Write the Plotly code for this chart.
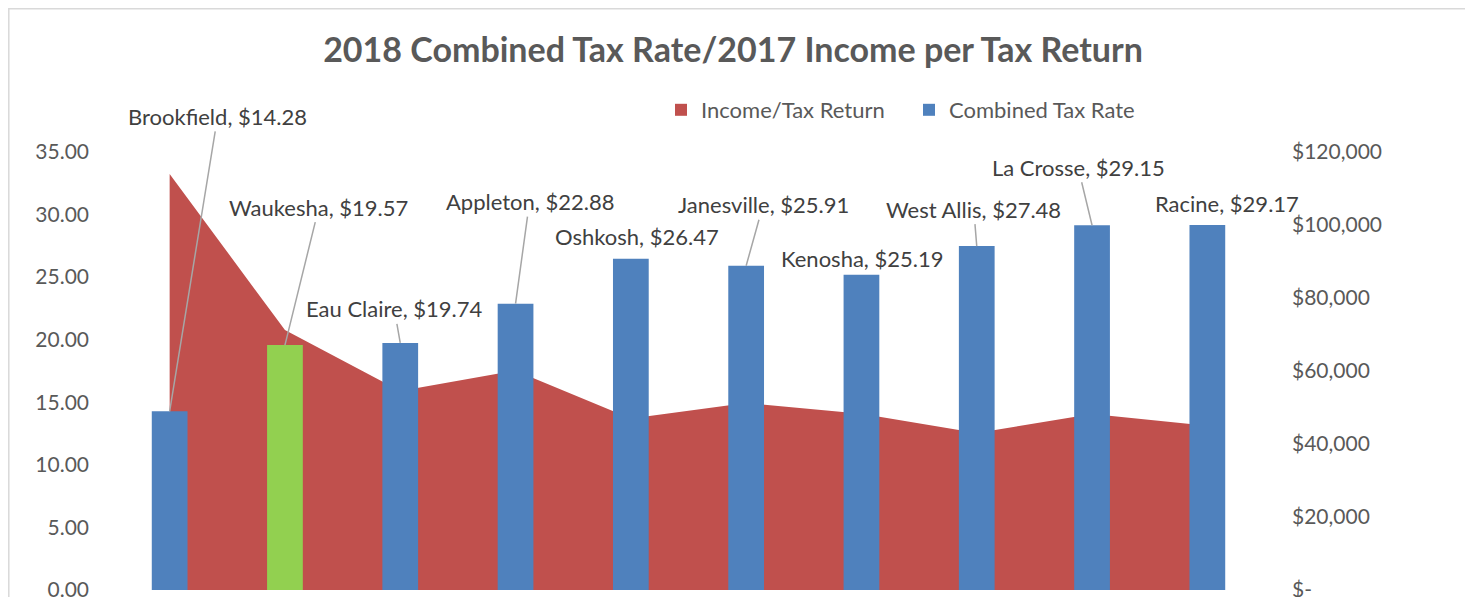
import plotly.graph_objects as go

# ---------------- data ----------------
cities = ["Brookfield", "Waukesha", "Eau Claire", "Appleton", "Oshkosh",
          "Janesville", "Kenosha", "West Allis", "La Crosse", "Racine"]
tax_rate = [14.28, 19.57, 19.74, 22.88, 26.47, 25.91, 25.19, 27.48, 29.15, 29.17]
income = [114000, 71200, 54500, 60100, 47000, 51200, 48300, 43000, 48200, 45000]
highlight_city = "Waukesha"

left_tickvals = [0, 5, 10, 15, 20, 25, 30, 35]
right_tickvals = [0, 20000, 40000, 60000, 80000, 100000, 120000]
right_ticktext = ["$-", "$20,000", "$40,000", "$60,000", "$80,000", "$100,000", "$120,000"]

# ---------------- style ----------------
RED = "#C0504D"
BLUE = "#4F81BD"
GREEN = "#92D050"
GREY_TXT = "#595959"
LABEL_TXT = "#404040"
LEADER = "#A6A6A6"
FONT = "Lato"

# page has an 8px body margin; figure sized so it ends at the window edge
W, H = 1465, 589
ML, MR, MT, MB = 104, 208, 144, 7
PW, PH = W - ML - MR, H - MT - MB

# data-label offsets in pixels (label centre relative to bar top) and leader-line flags
label_dx = [48, 34, -6, 14, 6, 17, 1, -3, -14, 20]
label_dy = [-295, -138, -34, -102, -22, -61, -16, -37, -58, -21]
leader = [True, True, True, True, False, True, False, True, True, False]

bar_colors = [GREEN if c == highlight_city else BLUE for c in cities]

fig = go.Figure()

# income area (primary y, drawn on the right side, sits behind the bars)
fig.add_trace(go.Scatter(
    x=cities, y=income, mode="none", fill="tozeroy", fillcolor=RED,
    name="Income/Tax Return", showlegend=False, yaxis="y", hoverinfo="x+y"))

# tax-rate bars (overlaying axis, left side, drawn above area)
fig.add_trace(go.Bar(
    x=cities, y=tax_rate, marker=dict(color=bar_colors, line=dict(width=0)),
    name="Combined Tax Rate", showlegend=False, yaxis="y2"))

# legend entries
fig.add_trace(go.Scatter(x=[None], y=[None], mode="markers", name="Income/Tax Return",
                         marker=dict(symbol="square", size=12, color=RED), yaxis="y"))
fig.add_trace(go.Scatter(x=[None], y=[None], mode="markers", name="Combined Tax Rate",
                         marker=dict(symbol="square", size=12, color=BLUE), yaxis="y"))

annotations = []
for c, v, dx, dy, ld in zip(cities, tax_rate, label_dx, label_dy, leader):
    annotations.append(dict(
        x=c, y=v, xref="x", yref="y2", text=f"{c}, ${v:.2f}",
        showarrow=True, ax=dx, ay=dy, arrowhead=0, arrowwidth=1.5,
        arrowcolor=LEADER if ld else "rgba(0,0,0,0)", standoff=0,
        font=dict(family=FONT, size=22, color=LABEL_TXT)))

shapes = [dict(type="rect", xref="paper", yref="paper",
               x0=(0.8 - ML) / PW, x1=(1458 - ML) / PW,
               y0=-0.2, y1=(H - MB - 0.8) / PH,
               line=dict(color="#D9D9D9", width=1.5), fillcolor="rgba(0,0,0,0)", layer="below")]

fig.update_layout(
    width=W, height=H,
    margin=dict(l=ML, r=MR, t=MT, b=MB, autoexpand=False),
    paper_bgcolor="white", plot_bgcolor="white",
    font=dict(family=FONT, color=GREY_TXT),
    title=dict(text="<b>2018 Combined Tax Rate/2017 Income per Tax Return</b>",
               x=725 / W, xref="container", xanchor="center",
               y=1 - 42 / H, yref="container", yanchor="middle",
               font=dict(family=FONT, size=34, color=GREY_TXT)),
    bargap=0.69, barmode="overlay",
    xaxis=dict(type="category", range=[-0.5, len(cities) - 0.5], showticklabels=False,
               showgrid=False, zeroline=False, showline=False, ticks=""),
    yaxis=dict(side="right", range=[0, 120000], tickvals=right_tickvals, ticktext=right_ticktext,
               showgrid=False, zeroline=False, showline=False, ticks="",
               ticklabeloverflow="allow",
               ticklabelstandoff=26, tickfont=dict(family=FONT, size=21, color=GREY_TXT)),
    yaxis2=dict(side="left", overlaying="y", range=[0, 35], tickvals=left_tickvals,
                tickformat=".2f", showgrid=False, zeroline=False, showline=False, ticks="",
                ticklabeloverflow="allow",
                ticklabelstandoff=22, tickfont=dict(family=FONT, size=21, color=GREY_TXT)),
    legend=dict(orientation="h", x=(653 - ML) / PW, xanchor="left",
                y=(H - MB - 102) / PH, yanchor="middle", entrywidth=203,
                font=dict(family=FONT, size=22, color=GREY_TXT), bgcolor="rgba(0,0,0,0)"),
    annotations=annotations,
    shapes=shapes,
)

fig.write_html("out.html")
